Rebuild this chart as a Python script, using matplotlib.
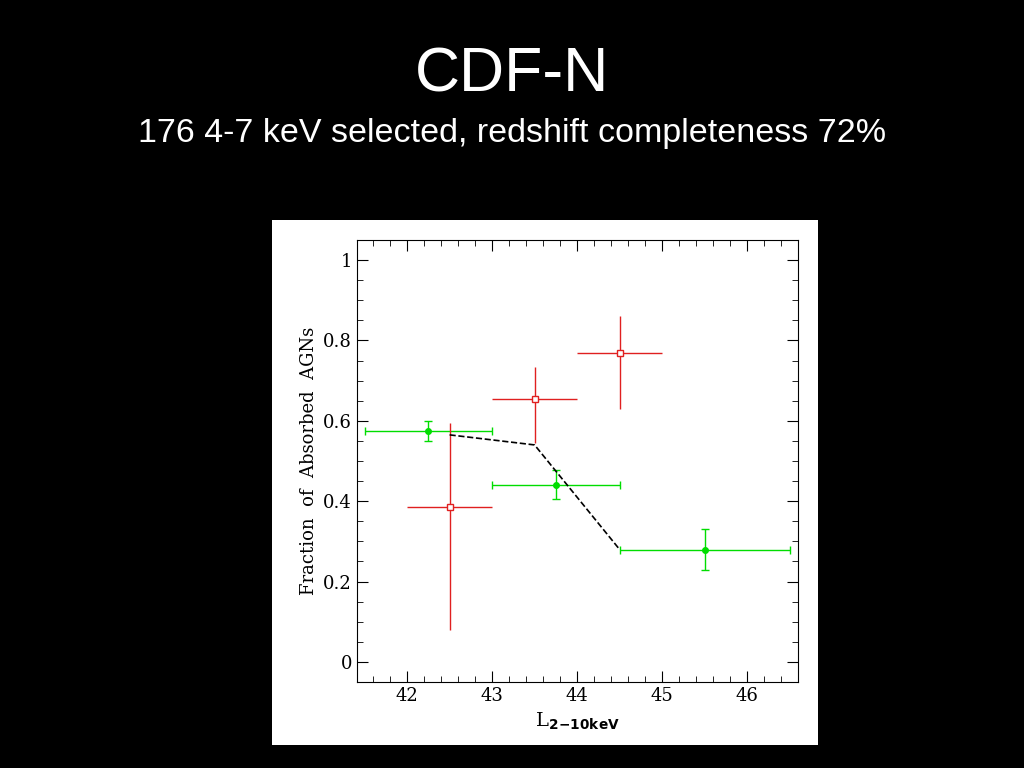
import matplotlib
matplotlib.use("Agg")
import matplotlib.pyplot as plt
from matplotlib.patches import Rectangle
from matplotlib.ticker import MultipleLocator

# absorbed fraction, green (filled) points
green_x = [42.25, 43.75, 45.5]
green_y = [0.575, 0.44, 0.278]
green_xlo = [41.5, 43.0, 44.5]
green_xhi = [43.0, 44.5, 46.5]
green_ylo = [0.55, 0.405, 0.228]
green_yhi = [0.60, 0.478, 0.33]

# red (open square) points
red_x = [42.5, 43.5, 44.5]
red_y = [0.385, 0.655, 0.77]
red_xlo = [42.0, 43.0, 44.0]
red_xhi = [43.0, 44.0, 45.0]
red_ylo = [0.08, 0.545, 0.63]
red_yhi = [0.595, 0.735, 0.86]

# dashed model line
model_x = [42.5, 43.5, 44.5]
model_y = [0.565, 0.54, 0.28]

fig = plt.figure(figsize=(10.24, 7.68), dpi=100, facecolor="black")
fig.text(0.5, 0.902, "CDF-N", ha="center", va="center", color="white",
         fontsize=45, family="Liberation Sans")
fig.text(0.5, 0.826, "176 4-7 keV selected, redshift completeness 72%",
         ha="center", va="center", color="white", fontsize=24.5,
         family="Liberation Sans")
fig.patches.append(Rectangle((0.2656, 0.03), 0.533, 0.684, transform=fig.transFigure,
                             facecolor="white", zorder=-1))

ax = fig.add_axes([0.3486, 0.112, 0.4307, 0.5755])
ax.set_xlim(41.41, 46.6)
ax.set_ylim(-0.05, 1.05)


def errs(v, lo, hi):
    return [[a - b for a, b in zip(v, lo)], [b - a for a, b in zip(v, hi)]]


ax.errorbar(green_x, green_y, xerr=errs(green_x, green_xlo, green_xhi),
            yerr=errs(green_y, green_ylo, green_yhi), fmt="o", color="#00dd00",
            ms=4, elinewidth=1, capsize=3)
ax.errorbar(red_x, red_y, xerr=errs(red_x, red_xlo, red_xhi),
            yerr=errs(red_y, red_ylo, red_yhi), fmt="s", color="#e02020",
            mfc="white", ms=4, elinewidth=1, capsize=0)
ax.plot(model_x, model_y, "k--", lw=1.2)

ax.set_xticks([42, 43, 44, 45, 46])
ax.set_yticks([0, 0.2, 0.4, 0.6, 0.8, 1.0])
ax.set_yticklabels(["0", "0.2", "0.4", "0.6", "0.8", "1"])
ax.xaxis.set_minor_locator(MultipleLocator(0.2))
ax.yaxis.set_minor_locator(MultipleLocator(0.05))
ax.tick_params(which="both", direction="in", top=True, right=True)
ax.tick_params(which="major", length=8, labelsize=13)
ax.tick_params(which="minor", length=4)
for lab in ax.get_xticklabels() + ax.get_yticklabels():
    lab.set_family("DejaVu Serif")
ax.set_xlabel(r"L$_{\mathbf{2\!-\!10keV}}$", fontsize=14, family="DejaVu Serif")
ax.set_ylabel("Fraction  of  Absorbed  AGNs", fontsize=13, family="DejaVu Serif")

fig.savefig("out.png", dpi=100, facecolor="black")
